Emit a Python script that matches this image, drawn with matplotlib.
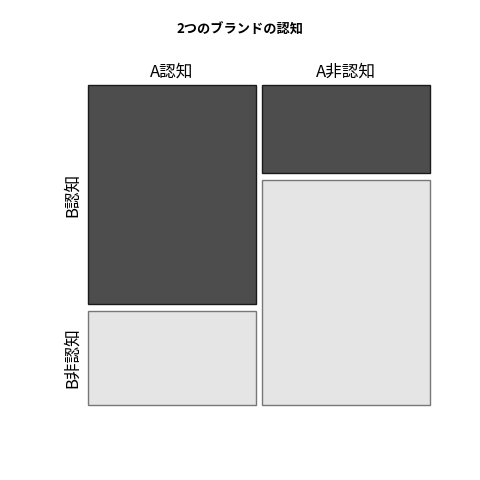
import matplotlib
matplotlib.use("Agg")
import matplotlib.pyplot as plt
from matplotlib.patches import Rectangle

plt.rcParams['font.family'] = ['Noto Sans CJK JP', 'DejaVu Sans']

title = "2つのブランドの認知"
col_labels = ["A認知", "A非認知"]
row_labels = ["B認知", "B非認知"]
counts_a_aware = [35, 15]      # B認知, B非認知
counts_a_unaware = [14, 36]
table = [counts_a_aware, counts_a_unaware]
fills = ["#4d4d4d", "#e5e5e5"]
edges = ["#1a1a1a", "#777777"]

fig = plt.figure(figsize=(4.8, 4.8), dpi=100)
ax = fig.add_axes([88/480, 1-405/480, (430-88)/480, (405-85)/480])
gx = 6/336
gy = 7/313
ax.set_xlim(0, 1+gx)
ax.set_ylim(0, 1+gy)
ax.axis('off')

N = sum(sum(c) for c in table)
x = 0
for j, col in enumerate(table):
    w = sum(col)/N
    top = 1+gy
    for i, v in enumerate(col):
        h = v/sum(col)
        ax.add_patch(Rectangle((x, top-h), w, h, facecolor=fills[i],
                               edgecolor=edges[i], linewidth=1.0, clip_on=False))
        if j == 0:
            ax.text(-0.047, top-h/2, row_labels[i], rotation=90, ha='center',
                    va='center', fontsize=12)
        top -= h + gy
    ax.text(x+w/2, 1+gy+0.015, col_labels[j], ha='center', va='bottom', fontsize=12)
    x += w + gx

fig.text(0.5, 1-30/480, title, ha='center', va='center', fontsize=9.5, fontweight='bold')
fig.savefig("out.png", dpi=100)
